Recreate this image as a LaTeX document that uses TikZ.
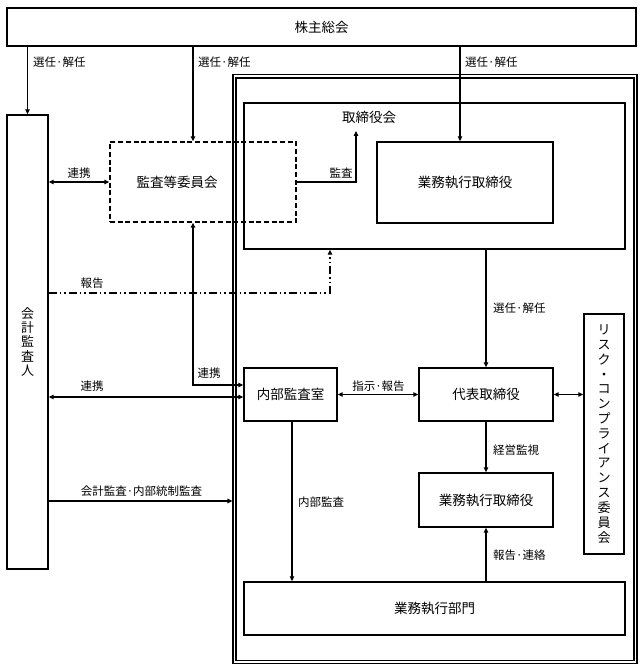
\documentclass[tikz,border=0pt]{standalone}
\usepackage{fontspec}
\setmainfont{Noto Sans CJK JP}
\usetikzlibrary{arrows.meta}
\begin{document}
\begin{tikzpicture}[x=1pt,y=-1pt,
  box/.style={draw=black,line width=1.4pt,inner sep=0pt,font=\fontsize{13.5}{16}\selectfont},
  dbox/.style={draw=black,line width=1.3pt,dash pattern=on 5pt off 2.7pt,inner sep=0pt},
  conn/.style={line width=1.2pt},
  arr/.style={conn,-{Triangle[length=5pt,width=4.5pt]}},
  arrtwo/.style={conn,{Triangle[length=5pt,width=4.5pt]}-{Triangle[length=5pt,width=4.5pt]}},
  dashdot/.style={dash pattern=on 8pt off 3pt on 1.5pt off 3pt on 1.5pt off 3pt},
  lbl/.style={font=\fontsize{11.5}{13}\selectfont,inner sep=0pt},
  mtext/.style={font=\fontsize{13.5}{16}\selectfont,inner sep=0pt},
  frame/.style={draw=black,line width=1.2pt,inner sep=0pt}
]
\useasboundingbox (0,0) rectangle (643,671);

% outer double frame
\node[frame,minimum width=404pt,minimum height=589pt] (grpo) at (435,369) {};
\node[frame,minimum width=398pt,minimum height=582.5pt] (grpi) at (435,369.25) {};

% nodes
\node[box,minimum width=629pt,minimum height=38pt] (sh) at (321.5,27) {株主総会};
\node[box,minimum width=41pt,minimum height=454pt,align=center,font=\fontsize{13}{14.3}\selectfont] (aud) at (27.5,342) {会\\計\\監\\査\\人};
\node[box,minimum width=381pt,minimum height=146pt] (bod) at (434.5,176) {};
\node[mtext] (bodlbl) at (369,117) {取締役会};
\node[box,minimum width=176pt,minimum height=81pt] (exec1) at (465,182.5) {業務執行取締役};
\node[dbox,minimum width=186pt,minimum height=80pt] (ac) at (203,182) {};
\node[mtext] (actext) at (177,182) {監査等委員会};
\node[box,minimum width=134pt,minimum height=53pt] (rep) at (486,394.5) {代表取締役};
\node[box,minimum width=93pt,minimum height=53pt] (ia) at (290.5,394.5) {内部監査室};
\node[box,minimum width=40pt,minimum height=240pt,align=center,font=\fontsize{13}{14.8}\selectfont] (risk) at (604,434) {リ\\ス\\ク\\・\\コ\\ン\\プ\\ラ\\イ\\ア\\ン\\ス\\委\\員\\会};
\node[box,minimum width=134pt,minimum height=54pt] (exec2) at (486,500) {業務執行取締役};
\node[box,minimum width=381pt,minimum height=53pt] (dept) at (434.5,608.5) {業務執行部門};

% connectors from shareholders
\draw[arr] (aud.north |- sh.south) -- (aud.north);
\node[lbl,anchor=west] (l1) at (33,62) {選任·解任};
\draw[arr] ([xshift=-10pt]ac.north |- sh.south) -- ([xshift=-10pt]ac.north);
\node[lbl,anchor=west] (l2) at (198,62) {選任·解任};
\draw[arr] ([xshift=-5pt]exec1.north |- sh.south) -- ([xshift=-5pt]exec1.north);
\node[lbl,anchor=west] (l3) at (465,62) {選任·解任};

% auditor <-> audit committee
\draw[arrtwo] (aud.east |- ac.west) -- (ac.west);
\node[lbl] (l4) at (79,173) {連携};

% audit committee -> board
\coordinate (audtip) at (356,131);
\draw[arr] (ac.east) -| (audtip);
\node[lbl] (l5) at (341,173) {監査};

% report dash-dot
\coordinate (rp) at (330,293);
\draw[arr,dashdot] (aud.east |- rp) -| (rp |- bod.south);
\node[lbl] (l6) at (92,283) {報告};

% board -> representative director
\draw[arr] (rep.north |- bod.south) -- (rep.north);
\node[lbl,anchor=west] (l7) at (493,308) {選任·解任};

% internal audit <-> rep
\draw[arrtwo] (ia.east) -- (rep.west);
\node[lbl] (l8) at (378.5,386) {指示·報告};

% rep <-> risk
\draw[arrtwo] (rep.east) -- (risk.west |- rep.east);

% audit committee <-> internal audit
\draw[arrtwo] ([xshift=-10pt]ac.south) |- ([yshift=9.5pt]ia.west);
\node[lbl] (l9) at (209,373) {連携};

% auditor <-> internal audit
\draw[arrtwo] (aud.east |- 0,397) -- (ia.west |- 0,397);
\node[lbl] (l10) at (92,386) {連携};

% accounting audit
\draw[arr] (aud.east |- 0,501) -- (grpo.west |- 0,501);
\node[lbl] (l11) at (141.5,491) {会計監査·内部統制監査};

% rep -> exec2
\draw[arr] (rep.south) -- (exec2.north);
\node[lbl,anchor=west] (l12) at (493,450) {経営監視};

% internal audit -> dept
\draw[arr] ([xshift=1.5pt]ia.south) -- ([xshift=1.5pt]ia.south |- dept.north);
\node[lbl,anchor=west] (l13) at (298,502) {内部監査};

% dept -> exec2
\draw[arr] (exec2.south |- dept.north) -- (exec2.south);
\node[lbl,anchor=west] (l14) at (493,555) {報告·連絡};
\end{tikzpicture}
\end{document}
